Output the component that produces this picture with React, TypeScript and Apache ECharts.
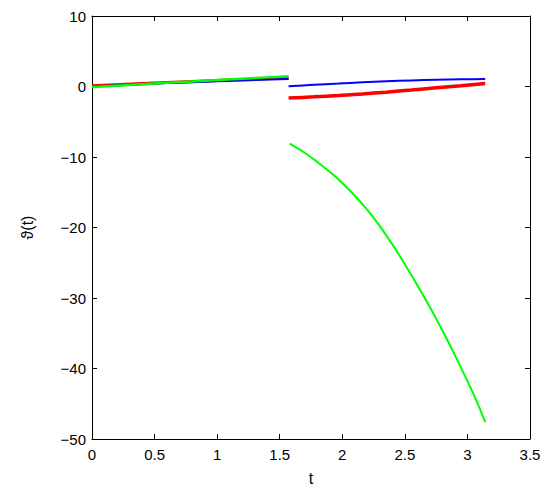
import React, { useEffect, useRef } from "react";
import * as echarts from "echarts";

const xTicks = [0, 0.5, 1, 1.5, 2, 2.5, 3, 3.5];
const yTicks = [-50, -40, -30, -20, -10, 0, 10];

// segment 1: t in [0, pi/2]
const redSeg1: [number, number][] = [[0, 0.12], [0.4, 0.42], [0.8, 0.72], [1.2, 0.98], [1.571, 1.22]];
const blueSeg1: [number, number][] = [[0, 0.0], [0.4, 0.33], [0.8, 0.62], [1.2, 0.86], [1.571, 1.08]];
const greenSeg1: [number, number][] = [[0, -0.08], [0.4, 0.32], [0.8, 0.72], [1.2, 1.1], [1.571, 1.47]];

// segment 2: t in [pi/2, pi]
const blueSeg2: [number, number][] = [[1.571, 0.05], [1.77, 0.24], [1.97, 0.42], [2.16, 0.6], [2.35, 0.74], [2.55, 0.86], [2.75, 0.95], [2.95, 1.02], [3.142, 1.05]];
const redSeg2: [number, number][] = [[1.571, -1.64], [1.77, -1.47], [1.97, -1.27], [2.16, -1.05], [2.35, -0.8], [2.55, -0.5], [2.75, -0.18], [2.95, 0.12], [3.142, 0.42]];
const greenSeg2: [number, number][] = [[1.58, -8.1], [1.7, -9.4], [1.8, -10.7], [1.9, -12.1], [2.0, -13.7], [2.1, -15.5], [2.2, -17.5], [2.3, -19.8], [2.4, -22.4], [2.5, -25.2], [2.6, -28.2], [2.7, -31.3], [2.8, -34.6], [2.9, -38.1], [3.0, -41.8], [3.07, -44.5], [3.142, -47.6]];

const fmt = (v: number) => (v < 0 ? "\u2212" + String(-v) : String(v));

export default function App() {
  const ref = useRef<HTMLDivElement>(null);
  useEffect(() => {
    const chart = echarts.init(ref.current!, undefined, { renderer: "svg" });
    const axisCommon = {
      axisLine: { show: true, onZero: false, lineStyle: { color: "#000", width: 1 } },
      axisTick: { show: true, inside: true, length: 5, lineStyle: { color: "#000" } },
      splitLine: { show: false },
    };
    const labelStyle = { color: "#000", fontSize: 15, fontFamily: "Liberation Sans, Arial, sans-serif" };
    const line = (data: [number, number][], color: string, width: number) => ({
      type: "line",
      data,
      smooth: 0.3,
      showSymbol: false,
      symbol: "none",
      lineStyle: { color, width },
      xAxisIndex: 0,
      yAxisIndex: 0,
      z: 2,
    });
    chart.setOption({
      animation: false,
      backgroundColor: "#fff",
      grid: { left: 92, right: 20, top: 16, bottom: 51, containLabel: false },
      xAxis: [
        {
          type: "value", position: "bottom", min: 0, max: 3.5, interval: 0.5,
          ...axisCommon,
          axisLabel: { ...labelStyle, margin: 8, formatter: (v: number) => String(v) },
          name: "t", nameLocation: "middle", nameGap: 31,
          nameTextStyle: { ...labelStyle, fontSize: 16 },
        },
        {
          type: "value", position: "top", min: 0, max: 3.5, interval: 0.5,
          ...axisCommon, axisLabel: { show: false },
        },
      ],
      yAxis: [
        {
          type: "value", position: "left", min: -50, max: 10, interval: 10,
          ...axisCommon,
          axisLabel: { ...labelStyle, margin: 6, formatter: fmt },
          name: "\u03d1(t)", nameLocation: "middle", nameGap: 57,
          nameTextStyle: { ...labelStyle, fontSize: 16 },
        },
        {
          type: "value", position: "right", min: -50, max: 10, interval: 10,
          ...axisCommon, axisLabel: { show: false },
        },
      ],
      series: [
        line(redSeg1, "#ff0000", 3),
        line(blueSeg1, "#0000ff", 2),
        line(greenSeg1, "#00ff00", 2.5),
        line(redSeg2, "#ff0000", 3.5),
        line(blueSeg2, "#0000ff", 2),
        line(greenSeg2, "#00ff00", 2),
      ],
    });
    return () => chart.dispose();
  }, []);
  return <div ref={ref} style={{ width: 550, height: 491, position: "absolute", left: 0, top: 0 }} />;
}
